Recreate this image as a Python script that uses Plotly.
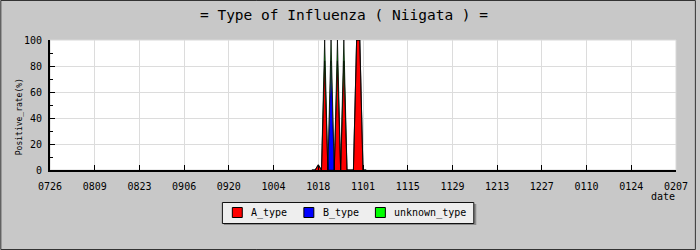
import plotly.graph_objects as go

# ---- data (daily, only the season with detections; others are zero) ----
dates = ["2009-10-16", "2009-10-17", "2009-10-18", "2009-10-19", "2009-10-20",
         "2009-10-21", "2009-10-22", "2009-10-23", "2009-10-24", "2009-10-25",
         "2009-10-26", "2009-10-27", "2009-10-28", "2009-10-29", "2009-10-30",
         "2009-10-31", "2009-11-01", "2009-11-02"]
a_type = [0, 0, 4, 0, 84, 0, 0, 0, 84, 0, 84, 0, 0, 0, 100, 100, 0, 0]
b_type = [0, 0, 0, 0, 0, 0, 84, 0, 0, 0, 0, 0, 0, 0, 0, 0, 0, 0]
unknown_type = [0, 0, 0, 0, 16, 0, 16, 0, 16, 0, 16, 0, 0, 0, 0, 0, 0, 0]

series_names = ["A_type", "B_type", "unknown_type"]
series_colors = ["#ff0000", "#0000ff", "#00ff00"]
series_values = [a_type, b_type, unknown_type]
series_linewidths = [0.5, 0.5, 0.8]

x_start = "2009-07-26"
x_end = "2010-02-07"

title_text = "= Type of Influenza ( Niigata ) ="
y_title = "Positive_rate(%)"
x_title = "date"

FONT = "DejaVu Sans Mono"
BG = "#c8c8c8"

fig = go.Figure()
for name, col, vals, lw in zip(series_names, series_colors, series_values, series_linewidths):
    fig.add_trace(go.Scatter(
        x=dates, y=vals, mode="lines", stackgroup="s", name=name,
        line=dict(color="black", width=lw), fillcolor=col,
        showlegend=False, hoverinfo="skip"))

# layout geometry helpers (pixels -> paper)
L, R, T, B = 50, 20, 40, 80
W, H = 700 - L - R, 250 - T - B
def px(p):
    return (p - L) / W
def py(q):
    return (250 - B - q) / H

shapes = [
    # light plot frame
    dict(type="rect", xref="paper", yref="paper", x0=0, x1=1, y0=0, y1=1,
         line=dict(color="#d8d8d8", width=1), layer="below"),
    # outer image border
    dict(type="rect", xref="paper", yref="paper", x0=px(0.5), x1=px(699.5),
         y0=py(249.5), y1=py(0.5), line=dict(color="#333333", width=1)),
    # legend shadow
    dict(type="rect", xref="paper", yref="paper", x0=px(225), x1=px(479),
         y0=py(225), y1=py(204), fillcolor="#8c8c8c", line=dict(width=0)),
    # legend box
    dict(type="rect", xref="paper", yref="paper", x0=px(223.5), x1=px(476.5),
         y0=py(223.5), y1=py(202.5), fillcolor="#eeeeee",
         line=dict(color="#111111", width=1)),
]
annotations = [
    dict(text=y_title, xref="paper", yref="paper", x=px(19), y=py(117),
         textangle=-90, showarrow=False, xanchor="center", yanchor="middle",
         font=dict(family=FONT, size=8, color="black")),
    dict(text=x_title, xref="paper", yref="paper", x=px(667), y=py(196),
         showarrow=False, xanchor="center", yanchor="middle",
         font=dict(family=FONT, size=10, color="black")),
]
# legend entries
for i, (name, col) in enumerate(zip(series_names, series_colors)):
    left = 233.5 + 72 * i
    shapes.append(dict(type="rect", xref="paper", yref="paper",
                       x0=px(left), x1=px(left + 10), y0=py(217.5), y1=py(207.5),
                       fillcolor=col, line=dict(color="black", width=1)))
    annotations.append(dict(text=name, xref="paper", yref="paper",
                            x=px(left + 17), y=py(212.5), showarrow=False,
                            xanchor="left", yanchor="middle",
                            font=dict(family=FONT, size=10, color="black")))

fig.update_layout(
    width=700, height=250,
    margin=dict(l=L, r=R, t=T, b=B),
    paper_bgcolor=BG, plot_bgcolor="white",
    font=dict(family=FONT, size=10, color="black"),
    title=dict(text=title_text, x=344 / 700, xref="container", xanchor="center",
               y=1 - 15 / 250, yref="container", yanchor="middle",
               font=dict(family=FONT, size=14.5, color="black")),
    showlegend=False,
    shapes=shapes,
    annotations=annotations,
)

fig.update_xaxes(
    type="date", range=[x_start, x_end],
    tick0=x_start, dtick=14 * 86400000, tickformat="%m%d",
    showgrid=True, gridcolor="#dcdcdc", gridwidth=1,
    showline=True, linecolor="black", linewidth=2,
    ticks="inside", ticklen=5, tickcolor="black",
    ticklabelstandoff=6,
    zeroline=False, fixedrange=True,
)
fig.update_yaxes(
    range=[0, 100], dtick=20,
    showgrid=True, gridcolor="#dcdcdc", gridwidth=1,
    showline=True, linecolor="black", linewidth=2,
    ticks="inside", ticklen=5, tickcolor="black",
    ticklabelstandoff=4,
    minor=dict(dtick=10, ticks="inside", ticklen=3, tickcolor="black", showgrid=False),
    zeroline=False, fixedrange=True,
)

fig.write_html("out.html")
